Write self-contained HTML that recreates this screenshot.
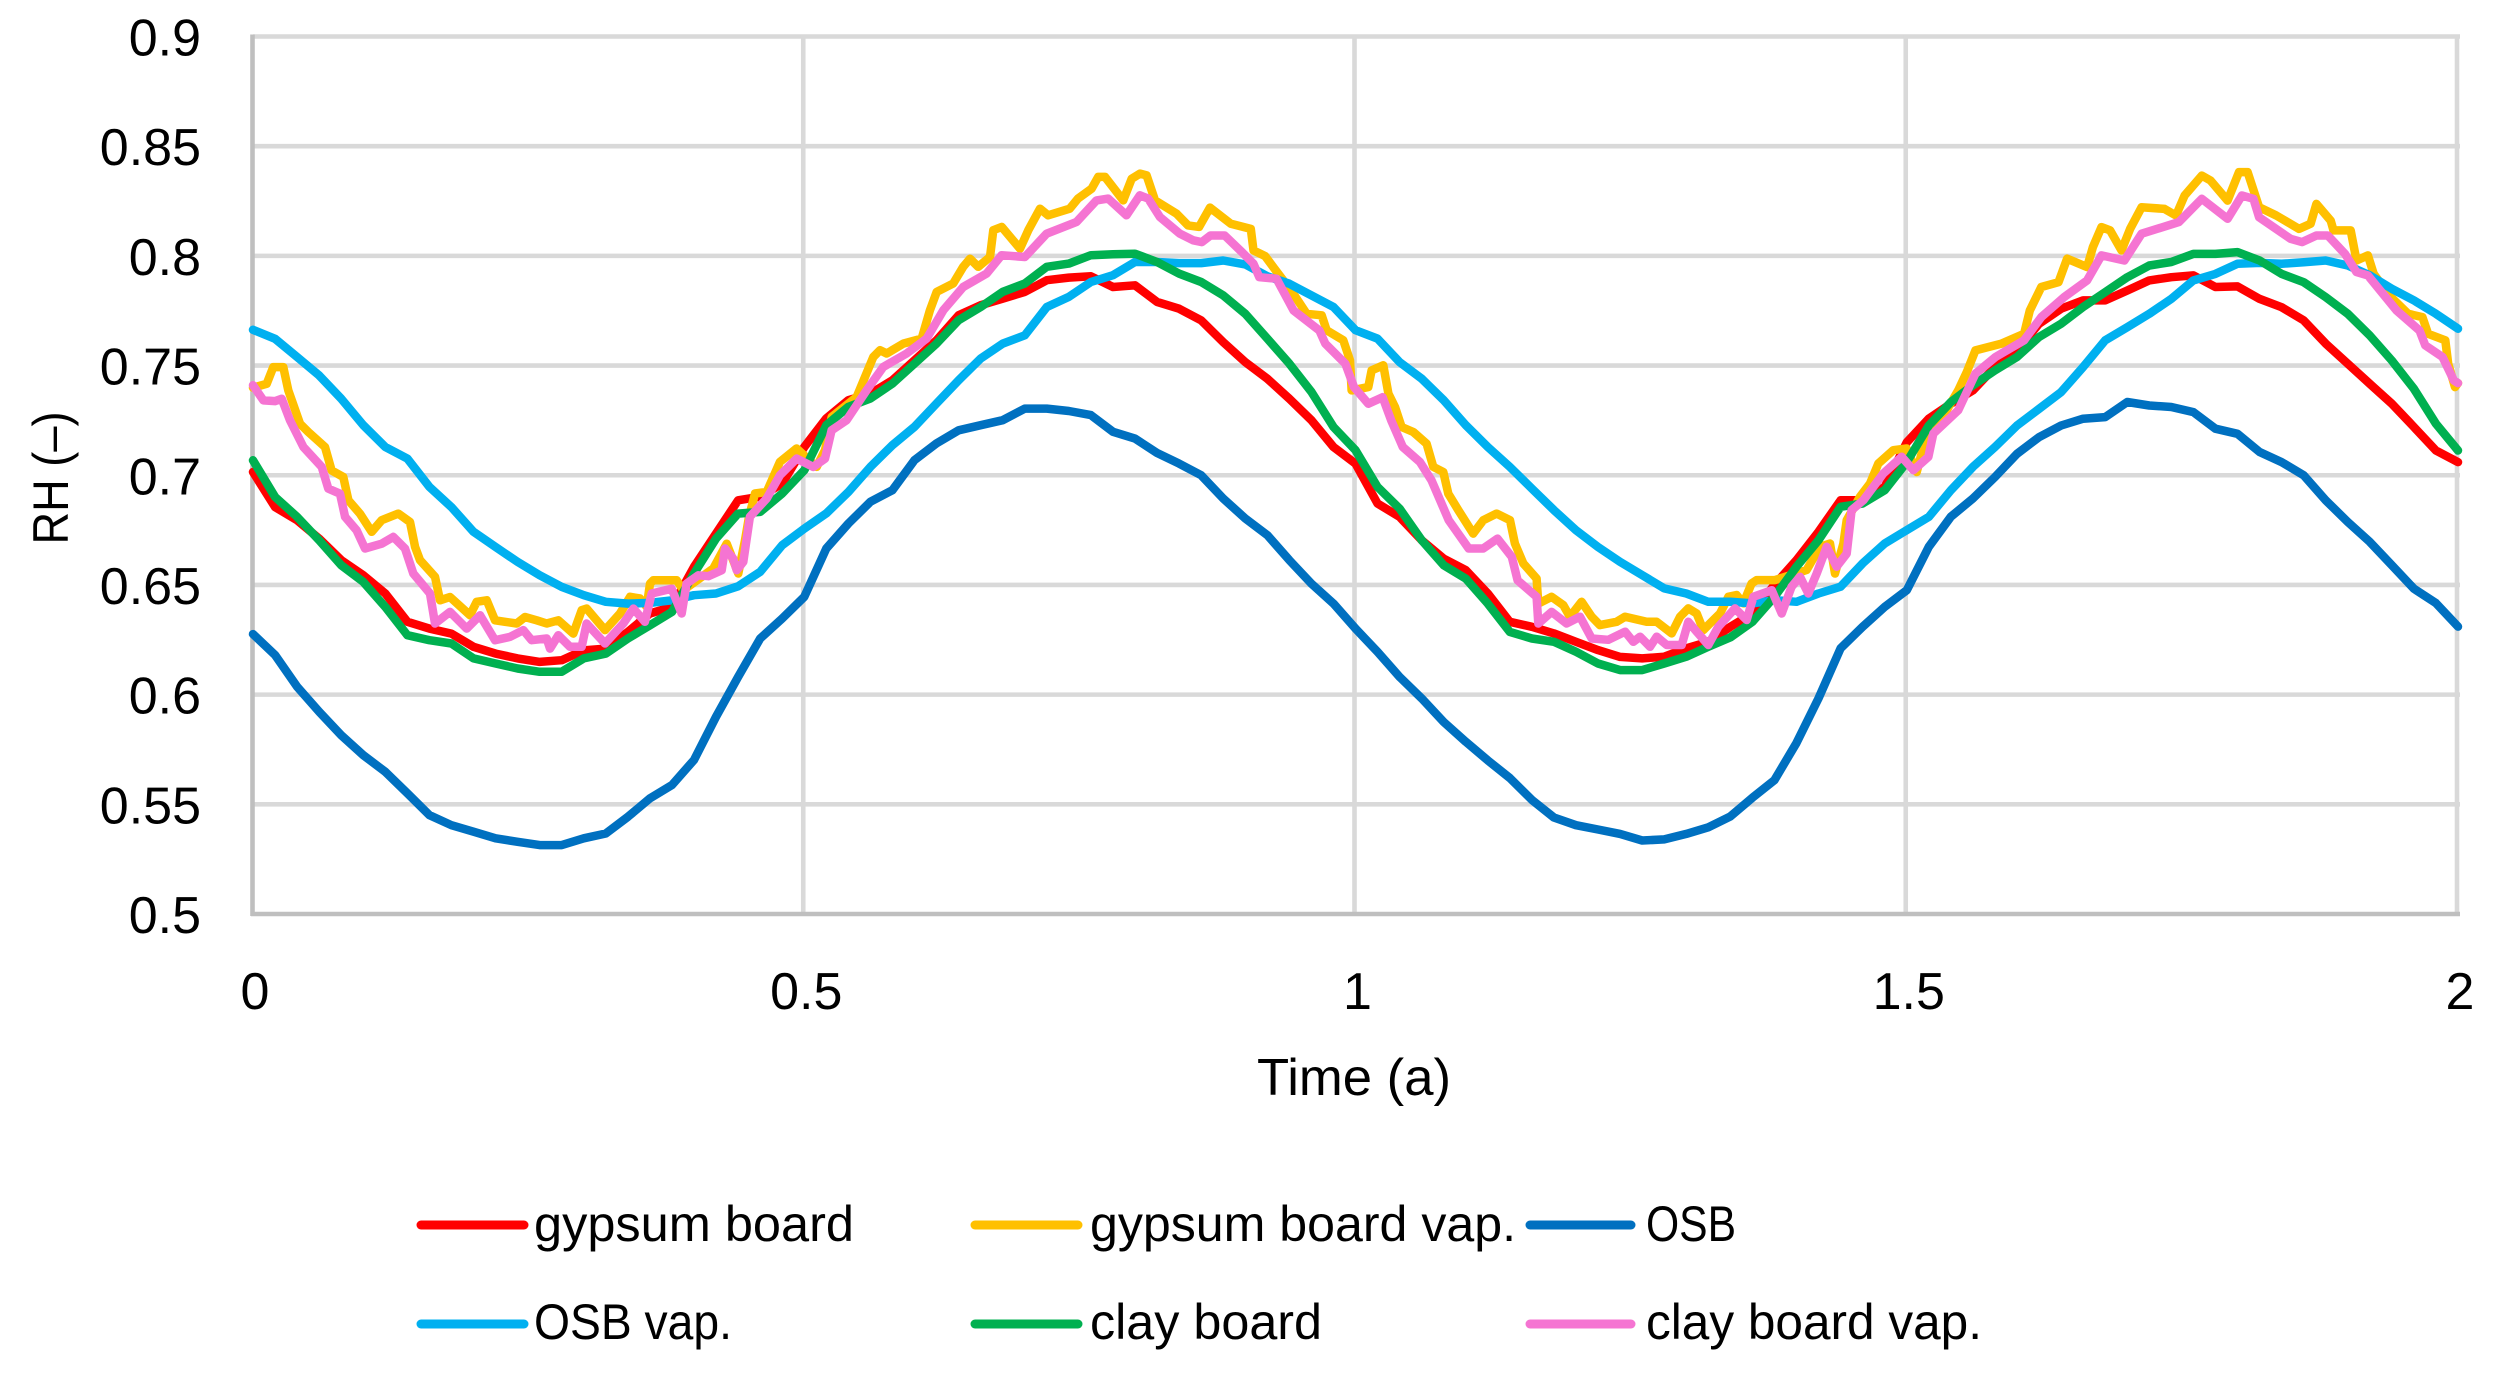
<!DOCTYPE html>
<html lang="en">
<head>
<meta charset="utf-8">
<title>RH over time</title>
<style>
html,body{margin:0;padding:0;background:#fff;width:2497px;height:1374px;overflow:hidden}
svg{display:block}
text{font-family:"Liberation Sans",sans-serif;fill:#000}
</style>
</head>
<body>
<svg id="chart" xmlns="http://www.w3.org/2000/svg" width="2497" height="1374" viewBox="0 0 2497 1374">
  <rect x="0" y="0" width="2497" height="1374" fill="#ffffff"/>
  <g id="grid"></g>
  <g id="axes"></g>
  <g id="series"></g>
  <text transform="translate(68 478) rotate(-90)" text-anchor="middle" font-size="50" textLength="133" lengthAdjust="spacingAndGlyphs">RH (–)</text>
  <text x="1257" y="1095" font-size="52" textLength="194" lengthAdjust="spacingAndGlyphs">Time (a)</text>
  <g font-size="50">
    <g>
      <line x1="421" y1="1225" x2="524" y2="1225" stroke="#ff0000" stroke-width="9" stroke-linecap="round"/>
      <text x="534" y="1241" textLength="320" lengthAdjust="spacingAndGlyphs">gypsum board</text>
    </g>
    <g>
      <line x1="975" y1="1225" x2="1078" y2="1225" stroke="#ffc000" stroke-width="9" stroke-linecap="round"/>
      <text x="1090" y="1241" textLength="426" lengthAdjust="spacingAndGlyphs">gypsum board vap.</text>
    </g>
    <g>
      <line x1="1530" y1="1225" x2="1631" y2="1225" stroke="#0070c0" stroke-width="9" stroke-linecap="round"/>
      <text x="1646" y="1241" textLength="90" lengthAdjust="spacingAndGlyphs">OSB</text>
    </g>
    <g>
      <line x1="421" y1="1324" x2="524" y2="1324" stroke="#00b0f0" stroke-width="9" stroke-linecap="round"/>
      <text x="534" y="1339" textLength="198" lengthAdjust="spacingAndGlyphs">OSB vap.</text>
    </g>
    <g>
      <line x1="975" y1="1324" x2="1078" y2="1324" stroke="#00b050" stroke-width="9" stroke-linecap="round"/>
      <text x="1090" y="1339" textLength="232" lengthAdjust="spacingAndGlyphs">clay board</text>
    </g>
    <g>
      <line x1="1530" y1="1324" x2="1631" y2="1324" stroke="#f574d2" stroke-width="9" stroke-linecap="round"/>
      <text x="1646" y="1339" textLength="336" lengthAdjust="spacingAndGlyphs">clay board vap.</text>
    </g>
  </g>
</svg>
<script>
var xTickValues = [0, 0.5, 1, 1.5, 2];
var xTickLabels = ["0", "0.5", "1", "1.5", "2"];
var yTickValues = [0.5, 0.55, 0.6, 0.65, 0.7, 0.75, 0.8, 0.85, 0.9];
var yTickLabels = ["0.5", "0.55", "0.6", "0.65", "0.7", "0.75", "0.8", "0.85", "0.9"];

var commonTimes = [0,0.02,0.04,0.06,0.08,0.1,0.12,0.14,0.16,0.18,0.2,0.22,0.24,0.26,0.28,0.3,0.32,0.34,0.36,0.38,0.4,0.42,0.44,0.46,0.48,0.5,0.52,0.54,0.56,0.58,0.6,0.62,0.64,0.66,0.68,0.7,0.72,0.74,0.76,0.78,0.8,0.82,0.84,0.86,0.88,0.9,0.92,0.94,0.96,0.98,1,1.02,1.04,1.06,1.08,1.1,1.12,1.14,1.16,1.18,1.2,1.22,1.24,1.26,1.28,1.3,1.32,1.34,1.36,1.38,1.4,1.42,1.44,1.46,1.48,1.5,1.52,1.54,1.56,1.58,1.6,1.62,1.64,1.66,1.68,1.7,1.72,1.74,1.76,1.78,1.8,1.82,1.84,1.86,1.88,1.9,1.92,1.94,1.96,1.98,2];

var gypsumBoard = [0.7015,0.6855,0.6795,0.6711,0.6613,0.6544,0.6461,0.6332,0.6301,0.6278,0.6218,0.6187,0.6165,0.6149,0.6157,0.6202,0.6210,0.6286,0.6370,0.6400,0.6582,0.6734,0.6886,0.6902,0.6962,0.7129,0.7259,0.7342,0.7372,0.7433,0.7524,0.7615,0.7729,0.7775,0.7805,0.7836,0.7889,0.7901,0.7907,0.7858,0.7866,0.7790,0.7759,0.7706,0.7607,0.7516,0.7440,0.7349,0.7251,0.7129,0.7053,0.6871,0.6810,0.6704,0.6620,0.6567,0.6461,0.6332,0.6309,0.6279,0.6241,0.6203,0.6172,0.6165,0.6173,0.6211,0.6241,0.6309,0.6370,0.6500,0.6613,0.6742,0.6886,0.6886,0.6947,0.7150,0.7258,0.7326,0.7387,0.7493,0.7569,0.7691,0.7759,0.7797,0.7797,0.7842,0.7888,0.7903,0.7911,0.7858,0.7861,0.7804,0.7766,0.7706,0.7600,0.7508,0.7417,0.7326,0.7220,0.7113,0.7060];

var osbBoard = [0.6276,0.6180,0.6036,0.5922,0.5815,0.5724,0.5648,0.5550,0.5451,0.5405,0.5375,0.5345,0.5329,0.5314,0.5314,0.5345,0.5367,0.5443,0.5527,0.5588,0.5702,0.5899,0.6081,0.6256,0.6347,0.6446,0.6666,0.6780,0.6879,0.6932,0.7069,0.7145,0.7205,0.7228,0.7251,0.7304,0.7304,0.7293,0.7274,0.7198,0.7167,0.7102,0.7053,0.7000,0.6894,0.6803,0.6727,0.6613,0.6506,0.6415,0.6301,0.6195,0.6081,0.5983,0.5875,0.5785,0.5700,0.5620,0.5520,0.5440,0.5405,0.5385,0.5365,0.5335,0.5340,0.5365,0.5395,0.5445,0.5530,0.5610,0.5780,0.5983,0.6211,0.6309,0.6400,0.6476,0.6674,0.6811,0.6894,0.6992,0.7098,0.7174,0.7227,0.7258,0.7265,0.7334,0.7318,0.7311,0.7288,0.7212,0.7189,0.7106,0.7060,0.7000,0.6886,0.6787,0.6696,0.6590,0.6483,0.6417,0.6310];

var osbVap = [0.7663,0.7622,0.7539,0.7455,0.7349,0.7228,0.7129,0.7076,0.6947,0.6855,0.6742,0.6673,0.6605,0.6544,0.6491,0.6453,0.6423,0.6415,0.6418,0.6430,0.6453,0.6461,0.6494,0.6560,0.6681,0.6757,0.6826,0.6924,0.7038,0.7137,0.7221,0.7327,0.7433,0.7532,0.7600,0.7638,0.7767,0.7813,0.7881,0.7912,0.7972,0.7972,0.7967,0.7967,0.7979,0.7961,0.7907,0.7873,0.7820,0.7767,0.7661,0.7623,0.7516,0.7440,0.7342,0.7228,0.7129,0.7038,0.6939,0.6841,0.6749,0.6673,0.6605,0.6545,0.6484,0.6461,0.6423,0.6423,0.6416,0.6431,0.6423,0.6461,0.6492,0.6598,0.6689,0.6750,0.6810,0.6932,0.7038,0.7129,0.7227,0.7303,0.7379,0.7493,0.7615,0.7675,0.7736,0.7804,0.7888,0.7918,0.7964,0.7968,0.7964,0.7971,0.7979,0.7956,0.7911,0.7850,0.7797,0.7736,0.7668];

var clayBoard = [0.7068,0.6901,0.6810,0.6704,0.6590,0.6514,0.6400,0.6271,0.6248,0.6233,0.6165,0.6142,0.6119,0.6104,0.6104,0.6165,0.6187,0.6256,0.6316,0.6377,0.6552,0.6711,0.6825,0.6833,0.6917,0.7023,0.7228,0.7312,0.7350,0.7418,0.7509,0.7600,0.7707,0.7767,0.7836,0.7874,0.7950,0.7965,0.8003,0.8007,0.8010,0.7972,0.7919,0.7881,0.7820,0.7736,0.7623,0.7509,0.7380,0.7220,0.7114,0.6947,0.6848,0.6704,0.6590,0.6529,0.6415,0.6286,0.6256,0.6241,0.6195,0.6142,0.6112,0.6112,0.6142,0.6173,0.6218,0.6261,0.6332,0.6446,0.6583,0.6704,0.6856,0.6871,0.6932,0.7060,0.7227,0.7334,0.7410,0.7478,0.7539,0.7630,0.7691,0.7767,0.7835,0.7903,0.7956,0.7972,0.8009,0.8009,0.8017,0.7979,0.7918,0.7880,0.7812,0.7736,0.7637,0.7523,0.7394,0.7235,0.7113];

var gypsumVapTimes = [0,0.0124,0.0184,0.0275,0.032,0.0426,0.0502,0.0653,0.0713,0.0819,0.0865,0.097,0.1077,0.1167,0.1318,0.1424,0.147,0.1515,0.1651,0.1696,0.1787,0.1968,0.2029,0.212,0.2195,0.2286,0.2392,0.2467,0.2573,0.2664,0.2769,0.2905,0.2981,0.3027,0.3193,0.3329,0.342,0.351,0.3571,0.3601,0.3631,0.3843,0.3903,0.4175,0.4297,0.4402,0.4463,0.4499,0.4553,0.4659,0.4779,0.4931,0.5113,0.5188,0.5249,0.5476,0.5626,0.5687,0.5748,0.5898,0.6065,0.614,0.6201,0.6351,0.6442,0.6503,0.6578,0.6685,0.6715,0.6791,0.6957,0.7032,0.7138,0.7212,0.7408,0.7483,0.7606,0.7666,0.7728,0.7893,0.797,0.8045,0.8105,0.8181,0.8378,0.8481,0.8581,0.868,0.887,0.905,0.9075,0.918,0.926,0.9436,0.9557,0.9693,0.9738,0.9889,0.995,0.9965,1.0116,1.0146,1.0252,1.0298,1.0358,1.0418,1.0524,1.0645,1.0706,1.0796,1.0842,1.0932,1.1068,1.1159,1.128,1.1401,1.1446,1.1522,1.1643,1.1658,1.1779,1.1885,1.1945,1.2051,1.2142,1.2217,1.2368,1.2445,1.264,1.2732,1.2868,1.2944,1.3019,1.3095,1.3155,1.3246,1.3306,1.3382,1.3457,1.3518,1.3593,1.3639,1.3805,1.4092,1.4213,1.4304,1.4349,1.4425,1.4455,1.4576,1.4667,1.4742,1.4878,1.4999,1.509,1.5135,1.5467,1.5545,1.5623,1.5856,1.6064,1.6116,1.622,1.6376,1.6454,1.6636,1.6688,1.6766,1.6844,1.6948,1.7026,1.713,1.7338,1.7442,1.752,1.7676,1.7754,1.791,1.8014,1.8092,1.8196,1.8352,1.8559,1.8663,1.8716,1.8845,1.8871,1.9027,1.9079,1.9183,1.9235,1.9391,1.9547,1.9677,1.9729,1.9885,1.9911,1.9973,2];
var gypsumBoardVap = [0.7399,0.7417,0.7493,0.7493,0.7387,0.7235,0.7197,0.7129,0.7022,0.6992,0.6886,0.6825,0.6742,0.6795,0.6825,0.6787,0.6673,0.6613,0.6537,0.6430,0.6445,0.6362,0.6423,0.6430,0.6339,0.6332,0.6324,0.6354,0.6339,0.6324,0.6339,0.6278,0.6385,0.6392,0.6294,0.6370,0.6446,0.6438,0.6400,0.6506,0.6521,0.6521,0.6476,0.6575,0.6688,0.6552,0.6704,0.6810,0.6917,0.6924,0.7061,0.7122,0.7038,0.7114,0.7266,0.7357,0.7539,0.7570,0.7555,0.7600,0.7623,0.7752,0.7836,0.7874,0.7950,0.7987,0.7950,0.7995,0.8117,0.8132,0.8033,0.8117,0.8215,0.8185,0.8215,0.8261,0.8306,0.8360,0.8360,0.8253,0.8352,0.8375,0.8367,0.8253,0.8192,0.8139,0.8132,0.8220,0.8146,0.8123,0.8025,0.7999,0.7945,0.7828,0.7736,0.7729,0.7661,0.7615,0.7524,0.7387,0.7402,0.7478,0.7501,0.7372,0.7311,0.7220,0.7197,0.7144,0.7038,0.7015,0.6916,0.6841,0.6734,0.6795,0.6825,0.6795,0.6689,0.6598,0.6529,0.6415,0.6446,0.6408,0.6355,0.6423,0.6355,0.6317,0.6332,0.6355,0.6332,0.6332,0.6279,0.6355,0.6393,0.6370,0.6294,0.6340,0.6370,0.6446,0.6454,0.6416,0.6507,0.6522,0.6522,0.6568,0.6674,0.6689,0.6552,0.6689,0.6795,0.6902,0.6962,0.7053,0.7114,0.7122,0.7015,0.7099,0.7387,0.7470,0.7569,0.7599,0.7645,0.7751,0.7858,0.7880,0.7987,0.7949,0.8040,0.8131,0.8116,0.8025,0.8123,0.8222,0.8214,0.8184,0.8275,0.8366,0.8344,0.8252,0.8382,0.8382,0.8222,0.8184,0.8123,0.8146,0.8237,0.8161,0.8116,0.8116,0.7979,0.8002,0.7918,0.7812,0.7736,0.7721,0.7645,0.7615,0.7508,0.7402,0.7420];

var clayVapTimes = [0,0.0094,0.02,0.026,0.0336,0.0457,0.0623,0.0683,0.0789,0.0835,0.094,0.1016,0.1167,0.1273,0.1379,0.1454,0.1605,0.1651,0.1787,0.1938,0.2059,0.2195,0.2331,0.2452,0.2527,0.2664,0.2694,0.2769,0.2875,0.2981,0.3026,0.3193,0.3359,0.345,0.3555,0.3616,0.3797,0.3888,0.3933,0.4039,0.413,0.4251,0.4281,0.4356,0.4387,0.4447,0.4507,0.4659,0.4779,0.4931,0.5082,0.5188,0.5248,0.5384,0.5566,0.5717,0.5928,0.611,0.6261,0.6442,0.6654,0.679,0.7001,0.7198,0.747,0.7651,0.7757,0.7923,0.8044,0.812,0.8226,0.8407,0.8528,0.8606,0.8684,0.8814,0.897,0.9075,0.9127,0.9283,0.9439,0.9673,0.9726,0.9908,0.9986,1.0116,1.0246,1.0324,1.0429,1.0585,1.0689,1.0845,1.1027,1.1158,1.1288,1.1418,1.147,1.1643,1.1658,1.1779,1.1915,1.2036,1.2142,1.2293,1.2445,1.252,1.2581,1.2671,1.2732,1.2823,1.2959,1.3019,1.3095,1.32,1.3291,1.3442,1.3548,1.3609,1.3775,1.3866,1.3956,1.4032,1.4107,1.4183,1.4274,1.4364,1.4455,1.45,1.4606,1.4787,1.4954,1.506,1.5196,1.5241,1.5467,1.5623,1.5805,1.6064,1.622,1.6428,1.6636,1.6766,1.6974,1.713,1.7468,1.7676,1.791,1.804,1.8144,1.8196,1.8481,1.8585,1.8716,1.8819,1.8975,1.9079,1.9183,1.9443,1.9651,1.9703,1.9859,1.9963,2];
var clayBoardVap = [0.7410,0.7341,0.7338,0.7349,0.7250,0.7129,0.7038,0.6939,0.6916,0.6810,0.6749,0.6666,0.6688,0.6719,0.6666,0.6552,0.6461,0.6324,0.6377,0.6301,0.6362,0.6248,0.6263,0.6294,0.6248,0.6256,0.6210,0.6271,0.6218,0.6218,0.6324,0.6233,0.6324,0.6392,0.6332,0.6461,0.6483,0.6370,0.6506,0.6544,0.6540,0.6567,0.6666,0.6620,0.6567,0.6605,0.6811,0.6894,0.7000,0.7076,0.7038,0.7076,0.7205,0.7251,0.7388,0.7494,0.7555,0.7623,0.7752,0.7858,0.7919,0.8003,0.7995,0.8101,0.8155,0.8253,0.8261,0.8185,0.8276,0.8261,0.8177,0.8101,0.8071,0.8063,0.8093,0.8093,0.8017,0.7964,0.7903,0.7896,0.7751,0.7660,0.7600,0.7508,0.7402,0.7326,0.7356,0.7250,0.7129,0.7060,0.6977,0.6795,0.6666,0.6666,0.6711,0.6628,0.6521,0.6446,0.6324,0.6377,0.6324,0.6355,0.6256,0.6250,0.6287,0.6241,0.6264,0.6218,0.6264,0.6226,0.6226,0.6332,0.6287,0.6226,0.6309,0.6393,0.6340,0.6446,0.6476,0.6370,0.6492,0.6537,0.6461,0.6552,0.6674,0.6583,0.6643,0.6841,0.6886,0.7008,0.7084,0.7023,0.7084,0.7190,0.7296,0.7463,0.7539,0.7615,0.7721,0.7812,0.7888,0.8002,0.7979,0.8101,0.8154,0.8260,0.8169,0.8275,0.8260,0.8176,0.8078,0.8063,0.8093,0.8093,0.8009,0.7926,0.7911,0.7751,0.7660,0.7592,0.7539,0.7432,0.7420];

var SVG_NS = "http://www.w3.org/2000/svg";
var plotLeft = 253, plotRight = 2458, plotTop = 36.5, plotBottom = 914;

function xAxis(t) {
  return plotLeft + (t - xTickValues[0]) / (xTickValues[xTickValues.length - 1] - xTickValues[0]) * (plotRight - plotLeft);
}
function yAxis(v) {
  return plotBottom - (v - yTickValues[0]) / (yTickValues[yTickValues.length - 1] - yTickValues[0]) * (plotBottom - plotTop);
}
function make(tag, parent) {
  var el = document.createElementNS(SVG_NS, tag);
  parent.appendChild(el);
  return el;
}
function linePath(times, values) {
  var d = "";
  for (var i = 0; i < values.length; i++) {
    d += (i ? "L" : "M") + xAxis(times[i]).toFixed(1) + " " + yAxis(values[i]).toFixed(1);
  }
  return d;
}

var gridGroup = document.getElementById("grid");
var axesGroup = document.getElementById("axes");
var seriesGroup = document.getElementById("series");

yTickValues.forEach(function (v, i) {
  if (i > 0) {
    var gl = make("line", gridGroup);
    
    
    gl.setAttribute("x1", plotLeft);
    gl.setAttribute("x2", plotRight + 2);
    gl.setAttribute("y1", yAxis(v));
    gl.setAttribute("y2", yAxis(v));
    gl.setAttribute("stroke", "#d9d9d9");
    gl.setAttribute("stroke-width", "4.6");
  }
  var lab = make("text", axesGroup);
  
  
  lab.setAttribute("x", 201);
  lab.setAttribute("y", yAxis(v) + 19);
  lab.setAttribute("text-anchor", "end");
  lab.setAttribute("font-size", "52");
  lab.textContent = yTickLabels[i];
});

xTickValues.forEach(function (t, i) {
  if (i > 0) {
    var gl = make("line", gridGroup);
    
    
    gl.setAttribute("x1", xAxis(t) - 1);
    gl.setAttribute("x2", xAxis(t) - 1);
    gl.setAttribute("y1", plotTop - 2);
    gl.setAttribute("y2", plotBottom);
    gl.setAttribute("stroke", "#d9d9d9");
    gl.setAttribute("stroke-width", "4.6");
  }
  var lab = make("text", axesGroup);
  
  
  lab.setAttribute("x", xAxis(t) + 2);
  lab.setAttribute("y", 1009);
  lab.setAttribute("text-anchor", "middle");
  lab.setAttribute("font-size", "52");
  lab.textContent = xTickLabels[i];
});

var xAxisLine = make("line", axesGroup);


xAxisLine.setAttribute("x1", plotLeft - 2);
xAxisLine.setAttribute("x2", plotRight + 2);
xAxisLine.setAttribute("y1", plotBottom);
xAxisLine.setAttribute("y2", plotBottom);
xAxisLine.setAttribute("stroke", "#bfbfbf");
xAxisLine.setAttribute("stroke-width", "4.6");

var yAxisLine = make("line", axesGroup);


yAxisLine.setAttribute("x1", plotLeft - 0.5);
yAxisLine.setAttribute("x2", plotLeft - 0.5);
yAxisLine.setAttribute("y1", plotTop - 2);
yAxisLine.setAttribute("y2", plotBottom + 2);
yAxisLine.setAttribute("stroke", "#bfbfbf");
yAxisLine.setAttribute("stroke-width", "4.6");

function drawSeries(name, times, values, color) {
  var p = make("path", seriesGroup);
  
  
  p.setAttribute("d", linePath(times, values));
  p.setAttribute("fill", "none");
  p.setAttribute("stroke", color);
  p.setAttribute("stroke-width", "8.5");
  p.setAttribute("stroke-linejoin", "round");
  p.setAttribute("stroke-linecap", "round");
}

drawSeries("line-gypsum-board", commonTimes, gypsumBoard, "#ff0000");
drawSeries("line-gypsum-board-vap", gypsumVapTimes, gypsumBoardVap, "#ffc000");
drawSeries("line-osb", commonTimes, osbBoard, "#0070c0");
drawSeries("line-osb-vap", commonTimes, osbVap, "#00b0f0");
drawSeries("line-clay-board", commonTimes, clayBoard, "#00b050");
drawSeries("line-clay-board-vap", clayVapTimes, clayBoardVap, "#f574d2");
</script>
</body>
</html>
